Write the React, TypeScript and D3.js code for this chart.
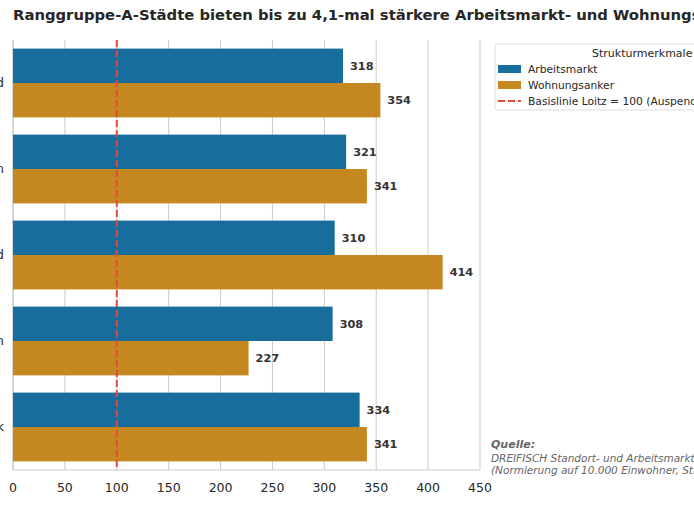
import React, { useEffect, useRef } from 'react';
import * as d3 from 'd3';

const cities = ['Greifswald', 'Grimmen', 'Stralsund', 'Demmin', 'Pasewalk'];
const arbeitsmarkt = [318, 321, 310, 308, 334];
const wohnungsanker = [354, 341, 414, 227, 341];
const seriesNames = ['Arbeitsmarkt', 'Wohnungsanker'];
const seriesColors = ['#176d9c', '#c58820'];
const baseline = 100;
const xTicks = [0, 50, 100, 150, 200, 250, 300, 350, 400, 450];

const W = 694;
const H = 532;
const FONT = '"DejaVu Sans", Verdana, sans-serif';

const App = () => {
  const ref = useRef<SVGSVGElement>(null);

  useEffect(() => {
    const svg = d3.select(ref.current);
    svg.selectAll('*').remove();

    const left = 13, right = 480, top = 40, bottom = 470;

    const x = d3.scaleLinear().domain([0, 450]).range([left, right]);
    const y0 = d3.scaleBand().domain(cities).range([top, bottom]).paddingInner(0.2).paddingOuter(0.1);
    const y1 = d3.scaleBand().domain(seriesNames).range([0, y0.bandwidth()]);

    // grid
    svg.append('g')
      .selectAll('line')
      .data(xTicks)
      .enter()
      .append('line')
      .attr('x1', d => x(d)).attr('x2', d => x(d))
      .attr('y1', top).attr('y2', bottom)
      .attr('stroke', '#cccccc').attr('stroke-width', 1);

    // spines
    svg.append('line').attr('x1', left).attr('x2', left).attr('y1', top).attr('y2', bottom)
      .attr('stroke', '#cccccc').attr('stroke-width', 1.2);
    svg.append('line').attr('x1', left).attr('x2', right).attr('y1', bottom).attr('y2', bottom)
      .attr('stroke', '#cccccc').attr('stroke-width', 1.2);

    // bars
    const rows = cities.map((c, i) => ({ city: c, values: [arbeitsmarkt[i], wohnungsanker[i]] }));
    const groups = svg.append('g')
      .selectAll('g')
      .data(rows)
      .enter()
      .append('g')
      .attr('transform', d => `translate(0,${y0(d.city)})`);

    const cells = groups.selectAll('g')
      .data(d => d.values.map((v, j) => ({ name: seriesNames[j], value: v, color: seriesColors[j] })))
      .enter()
      .append('g');

    cells.append('rect')
      .attr('x', x(0))
      .attr('y', d => y1(d.name)!)
      .attr('width', d => x(d.value) - x(0))
      .attr('height', y1.bandwidth())
      .attr('fill', d => d.color);

    cells.append('text')
      .attr('x', d => x(d.value) + 7)
      .attr('y', d => y1(d.name)! + y1.bandwidth() / 2)
      .attr('dy', '0.35em')
      .attr('font-family', FONT)
      .attr('font-size', 11.3)
      .attr('font-weight', 'bold')
      .attr('fill', '#333333')
      .text(d => d.value);

    // category labels (left of the axis)
    svg.append('g')
      .selectAll('text')
      .data(cities)
      .enter()
      .append('text')
      .attr('x', left - 9)
      .attr('y', d => y0(d)! + y0.bandwidth() / 2)
      .attr('dy', '0.35em')
      .attr('text-anchor', 'end')
      .attr('font-family', FONT)
      .attr('font-size', 12.5)
      .attr('fill', '#262626')
      .text(d => d);

    // baseline
    svg.append('line')
      .attr('x1', x(baseline)).attr('x2', x(baseline))
      .attr('y1', top).attr('y2', bottom)
      .attr('stroke', '#e04b3c').attr('stroke-width', 2)
      .attr('stroke-dasharray', '7,3');

    // x tick labels
    svg.append('g')
      .selectAll('text')
      .data(xTicks)
      .enter()
      .append('text')
      .attr('x', d => x(d))
      .attr('y', bottom + 22)
      .attr('text-anchor', 'middle')
      .attr('font-family', FONT)
      .attr('font-size', 12.5)
      .attr('fill', '#262626')
      .text(d => d);

    // title
    svg.append('text')
      .attr('x', 13).attr('y', 20)
      .attr('font-family', FONT)
      .attr('font-size', 14.8)
      .attr('font-weight', 'bold')
      .attr('fill', '#262626')
      .text('Ranggruppe-A-Städte bieten bis zu 4,1-mal stärkere Arbeitsmarkt- und Wohnungsanker als Loitz');

    // legend
    const lg = svg.append('g').attr('transform', 'translate(495,44)');
    lg.append('rect')
      .attr('width', 290).attr('height', 66).attr('rx', 3)
      .attr('fill', 'white').attr('stroke', '#dddddd');
    lg.append('text')
      .attr('x', 97).attr('y', 13)
      .attr('font-family', FONT).attr('font-size', 11).attr('fill', '#262626')
      .text('Strukturmerkmale');
    seriesNames.forEach((name, i) => {
      lg.append('rect')
        .attr('x', 3).attr('y', 21 + i * 16).attr('width', 23).attr('height', 8)
        .attr('fill', seriesColors[i]);
      lg.append('text')
        .attr('x', 33).attr('y', 25 + i * 16).attr('dy', '0.35em')
        .attr('font-family', FONT).attr('font-size', 10.7).attr('fill', '#262626')
        .text(name);
    });
    lg.append('line')
      .attr('x1', 3).attr('x2', 26).attr('y1', 57).attr('y2', 57)
      .attr('stroke', '#e04b3c').attr('stroke-width', 2).attr('stroke-dasharray', '7,3');
    lg.append('text')
      .attr('x', 33).attr('y', 57).attr('dy', '0.35em')
      .attr('font-family', FONT).attr('font-size', 10.7).attr('fill', '#262626')
      .text('Basislinie Loitz = 100 (Auspendlerquote)');

    // source note
    const src = svg.append('g').attr('font-family', FONT).attr('fill', '#666666').attr('font-style', 'italic');
    src.append('text').attr('x', 491).attr('y', 448).attr('font-size', 11).attr('font-weight', 'bold').text('Quelle:');
    src.append('text').attr('x', 491).attr('y', 462).attr('font-size', 10.5).text('DREIFISCH Standort- und Arbeitsmarktindikatoren 2023');
    src.append('text').attr('x', 491).attr('y', 474).attr('font-size', 10.5).text('(Normierung auf 10.000 Einwohner, Stand 2023)');
  }, []);

  return (
    <svg
      ref={ref}
      width={W}
      height={H}
      style={{ position: 'absolute', left: 0, top: 0, background: 'white', overflow: 'hidden' }}
    />
  );
};

export default App;
